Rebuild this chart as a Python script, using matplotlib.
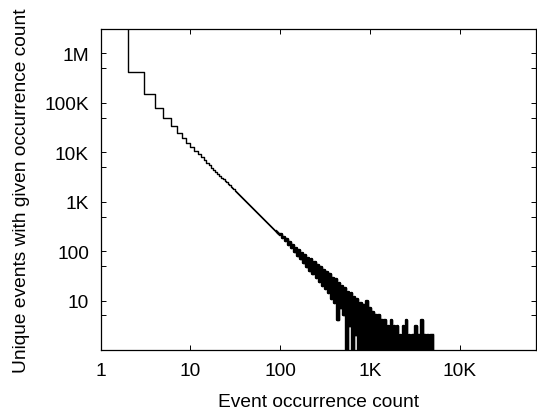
import matplotlib.pyplot as plt
from matplotlib.ticker import FixedLocator, NullLocator

plt.rcParams['font.family'] = ['Liberation Sans', 'DejaVu Sans']

# occurrence counts 1..99, one entry per count
head_counts = list(range(1, 100))
head_events = [
    4200000, 420000, 150000, 80000, 50000, 34000, 25000, 19500, 15400, 12500,
    10550, 9040, 7840, 6870, 6070, 5420, 4860, 4390, 3990, 3640,
    3340, 3070, 2840, 2630, 2450, 2280, 2130, 2000, 1880, 1770,
    1670, 1580, 1490, 1415, 1345, 1280, 1217, 1162, 1108, 1059,
    1014, 972, 932, 894, 859, 827, 795, 766, 738, 712,
    688, 664, 642, 621, 601, 582, 564, 547, 531, 515,
    500, 486, 472, 459, 447, 435, 423, 412, 402, 391,
    382, 372, 363, 355, 346, 338, 330, 323, 316, 309,
    302, 295, 289, 283, 279, 266, 270, 255, 261, 244,
    251, 234, 243, 226, 236, 216, 226, 207, 218,
]

# noisy tail, sampled
tail_counts = [
    100, 104, 108, 112, 117, 122, 127, 132, 137, 143,
    149, 155, 161, 167, 174, 181, 188, 196, 204, 212,
    220, 229, 238, 248, 258, 268, 279, 290, 302, 314,
    326, 339, 353, 367, 382, 397, 413, 430, 447, 465,
    484, 503, 523, 544, 566, 589, 612, 637, 662, 689,
    716, 745, 775, 806, 838, 872, 907, 943, 981, 1020,
    1060, 1100, 1150, 1190, 1240, 1290, 1340, 1400, 1450, 1510,
    1570, 1630, 1700, 1770, 1840, 1910, 1990, 2070, 2150, 2240,
    2330, 2420, 2520, 2620, 2720, 2830, 2940, 3060, 3180, 3310,
    3440, 3580, 3720, 3870, 4030, 4190, 4360, 4530, 4710, 4900,
    5000,
]
tail_events = [
    222, 188, 195, 160, 172, 135, 152, 114, 133, 97,
    118, 80, 104, 70, 92, 58, 82, 48, 74, 40,
    68, 34, 60, 28, 52, 24, 47, 20, 42, 17,
    38, 14, 34, 11, 29, 9, 27, 4, 23, 7,
    20, 5, 18, 1, 15, 3, 14, 1, 12, 2,
    11, 1, 9, 1, 8, 1, 10, 1, 7, 1,
    6, 1, 5, 1, 5, 1, 4, 1, 4, 1,
    3, 1, 4, 1, 3, 1, 3, 1, 2, 1,
    3, 1, 4, 1, 2, 1, 2, 1, 3, 1,
    2, 1, 4, 1, 2, 1, 2, 1, 2, 1,
    2,
]

counts = head_counts + tail_counts
events = head_events + tail_events

x_ticks = [1, 10, 100, 1000, 10000]
x_labels = ['1', '10', '100', '1K', '10K']
y_ticks = [10, 100, 1000, 10000, 100000, 1000000]
y_labels = ['10', '100', '1K', '10K', '100K', '1M']
y_minor = [5, 50, 500, 5000, 50000, 500000]

fig = plt.figure(figsize=(5.37, 4.14), dpi=100)
ax = fig.add_axes([100.7 / 537, 63 / 414, 434.8 / 537, 321 / 414])

ax.step(counts, events, where='post', color='black', lw=1.0)
# the tail is very dense in the original, so draw it a bit heavier
ax.step(tail_counts, tail_events, where='post', color='black', lw=1.7)

ax.set_xscale('log')
ax.set_yscale('log')
ax.set_xlim(1, 70000)
ax.set_ylim(1, 3.1e6)

ax.xaxis.set_major_locator(FixedLocator(x_ticks))
ax.xaxis.set_minor_locator(NullLocator())
ax.set_xticklabels(x_labels)
ax.yaxis.set_major_locator(FixedLocator(y_ticks))
ax.yaxis.set_minor_locator(FixedLocator(y_minor))
ax.set_yticklabels(y_labels)
ax.yaxis.set_minor_formatter(plt.NullFormatter())

ax.tick_params(which='both', direction='in', top=True, right=True,
               length=3.3, width=0.7, labelsize=13.8, colors='black')
ax.tick_params(axis='x', pad=9)
ax.tick_params(axis='y', pad=8.5)

for s in ax.spines.values():
    s.set_linewidth(0.9)

ax.set_xlabel('Event occurrence count', fontsize=13.8, labelpad=10)
ax.set_ylabel('Unique events with given occurrence count', fontsize=13.8,
              labelpad=10)

fig.savefig('out.png', dpi=100)
